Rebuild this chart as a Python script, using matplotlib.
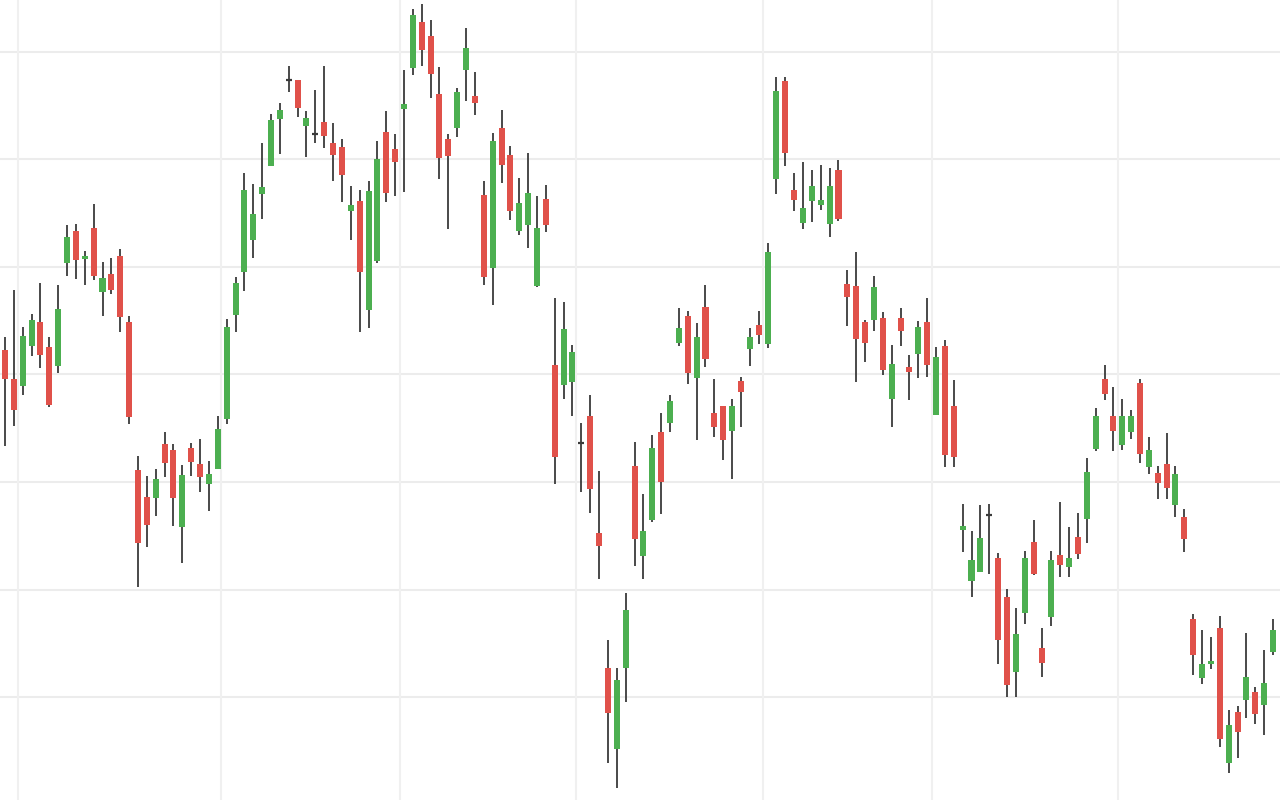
import matplotlib
matplotlib.use('Agg')
import matplotlib.pyplot as plt
import numpy as np

# OHLC por vela
opens = [45.0, 42.1, 41.4, 45.4, 47.8, 45.3, 43.4, 53.7, 56.9, 54.1,
         57.2, 50.8, 52.6, 54.4, 47.8, 33.0, 30.3, 30.2, 35.6, 35.0,
         27.3, 35.2, 33.6, 31.6, 33.1, 38.1, 48.5, 52.8, 56.0, 60.6,
         63.4, 68.1, 72.0, 72.0, 67.4, 66.6, 67.8, 65.7, 65.3, 58.9,
         59.9, 49.0, 53.9, 66.8, 65.1, 69.1, 73.2, 77.8, 76.4, 70.6,
         66.1, 67.2, 73.0, 70.4, 60.5, 53.2, 67.2, 64.5, 56.9, 57.5,
         51.4, 60.1, 43.5, 41.5, 41.8, 35.7, 38.4, 26.7, 13.2, 5.1,
         13.2, 33.4, 24.4, 28.0, 36.8, 37.7, 45.7, 48.4, 42.2, 49.3,
         38.7, 39.4, 36.9, 41.9, 45.1, 47.5, 45.6, 62.1, 71.9, 61.0,
         57.7, 59.9, 59.5, 57.6, 63.0, 51.6, 51.4, 47.8, 48.0, 48.2,
         40.1, 48.2, 43.3, 44.6, 47.8, 38.5, 45.4, 39.4, 27.0, 21.9,
         22.8, 28.5, 24.2, 20.3, 12.8, 18.7, 25.8, 15.2, 18.3, 24.5,
         23.3, 26.3, 28.1, 35.1, 42.1, 38.4, 35.5, 36.8, 41.7, 33.3,
         32.7, 33.6, 29.5, 28.3, 18.1, 12.2, 13.6, 17.2, 3.7, 8.8,
         10.0, 10.8, 9.5, 14.8]
highs = [46.3, 51.0, 47.3, 48.6, 51.7, 46.3, 51.5, 57.5, 57.6, 54.9,
         59.6, 53.8, 54.2, 55.1, 48.4, 34.4, 32.4, 33.1, 36.8, 35.6,
         33.5, 35.7, 36.1, 33.9, 38.4, 48.1, 52.3, 62.7, 61.6, 65.7,
         68.6, 69.7, 73.45, 72.0, 68.9, 71.0, 73.4, 67.7, 66.1, 61.4,
         61.0, 61.9, 65.9, 68.9, 66.6, 73.0, 79.1, 79.6, 78.0, 73.3,
         66.6, 71.2, 77.2, 72.8, 61.9, 66.7, 69.0, 65.4, 62.2, 64.7,
         60.4, 61.5, 50.2, 49.8, 45.5, 37.7, 40.5, 32.9, 16.0, 13.2,
         20.7, 35.8, 30.6, 36.5, 38.7, 40.5, 49.2, 48.9, 47.7, 51.5,
         42.1, 39.4, 40.1, 42.3, 47.2, 48.9, 55.7, 72.3, 72.3, 62.7,
         63.8, 63.0, 63.5, 63.2, 64.0, 53.0, 54.8, 48.0, 52.4, 48.8,
         45.5, 49.2, 44.5, 47.9, 50.2, 45.3, 46.0, 42.0, 29.6, 26.9,
         29.5, 29.6, 24.7, 21.1, 19.2, 24.9, 28.0, 17.2, 24.9, 29.8,
         27.3, 28.7, 34.2, 39.2, 43.5, 41.3, 40.1, 39.0, 42.1, 36.3,
         33.4, 36.7, 33.4, 29.1, 18.6, 17.0, 16.3, 18.4, 9.0, 9.4,
         16.7, 11.3, 15.0, 18.1]
lows = [35.4, 37.4, 40.5, 44.4, 43.2, 39.3, 42.7, 52.4, 52.1, 51.5,
        52.0, 48.4, 50.6, 46.8, 37.6, 21.3, 25.3, 28.4, 32.3, 27.4,
        23.7, 32.4, 30.8, 28.9, 33.1, 37.6, 46.8, 50.9, 54.2, 58.1,
        63.4, 64.6, 70.8, 68.3, 64.3, 65.7, 65.2, 61.9, 59.8, 56.0,
        46.8, 47.2, 53.7, 59.8, 60.4, 60.8, 72.5, 73.4, 70.2, 62.1,
        57.1, 66.3, 69.9, 68.5, 51.5, 49.5, 61.7, 58.0, 56.5, 55.2,
        51.3, 56.8, 31.6, 40.1, 38.4, 30.8, 28.7, 22.1, 3.7, 1.2,
        9.8, 23.4, 22.1, 27.8, 28.6, 36.8, 45.4, 41.6, 36.0, 43.3,
        36.3, 34.0, 32.1, 37.3, 43.4, 45.6, 45.2, 60.6, 63.4, 58.9,
        57.1, 57.8, 59.0, 56.3, 57.9, 47.4, 41.8, 43.8, 46.9, 42.5,
        37.3, 45.4, 40.0, 42.2, 42.3, 38.5, 33.3, 33.3, 24.8, 20.3,
        22.8, 22.6, 13.6, 10.3, 10.3, 17.6, 22.5, 12.3, 17.4, 22.3,
        22.3, 24.1, 25.7, 34.9, 40.0, 34.9, 35.0, 36.1, 33.7, 32.6,
        30.1, 30.1, 28.3, 24.8, 12.5, 11.6, 13.1, 5.3, 2.7, 4.2,
        8.2, 7.6, 6.5, 14.5]
closes = [42.1, 39.0, 46.4, 48.0, 44.5, 39.5, 49.1, 56.3, 54.0, 54.4,
          52.4, 52.2, 51.0, 48.3, 38.3, 25.7, 27.5, 32.1, 33.7, 30.2,
          32.5, 33.8, 32.3, 32.6, 37.1, 47.3, 51.7, 61.0, 58.6, 61.3,
          68.0, 69.0, 72.0, 69.2, 68.2, 66.6, 66.4, 64.5, 62.5, 59.5,
          52.8, 60.9, 64.1, 60.7, 63.8, 69.6, 78.5, 75.0, 72.6, 64.2,
          64.4, 70.8, 75.2, 69.7, 52.3, 65.9, 63.5, 58.9, 59.7, 60.7,
          57.2, 57.5, 34.3, 47.1, 44.8, 35.7, 31.1, 25.4, 8.7, 12.0,
          19.0, 26.1, 26.9, 35.2, 31.8, 39.9, 47.2, 42.7, 46.3, 44.1,
          37.3, 36.0, 39.4, 40.8, 46.3, 46.5, 54.8, 70.9, 64.7, 60.0,
          59.2, 61.4, 60.0, 61.4, 58.1, 50.3, 46.1, 45.7, 51.3, 43.0,
          43.6, 46.9, 42.8, 47.3, 43.5, 44.3, 34.5, 34.3, 27.4, 24.0,
          26.2, 28.5, 16.0, 11.5, 16.6, 24.2, 22.6, 13.7, 24.0, 23.5,
          24.2, 24.6, 32.8, 38.4, 40.6, 36.9, 38.4, 38.4, 34.6, 35.0,
          31.7, 31.2, 32.6, 26.1, 14.5, 13.6, 13.9, 6.1, 7.5, 6.8,
          12.3, 8.6, 11.7, 17.0]

# lineas de la cuadricula
niveles_y = [10.3, 21.0, 31.8, 42.6, 53.3, 64.1, 74.8]
marcas_x = [1.47, 24.36, 44.55, 64.4, 85.5, 104.55, 125.5]

verde = '#4CAF50'
rojo = '#E0514A'
mecha = '#3a3a3a'
ancho = 0.68

fig = plt.figure(figsize=(12.8, 8), dpi=100)
ax = fig.add_axes([0, 0, 1, 1])

for yv in niveles_y:
    ax.axhline(yv, color='#ececec', lw=1.5, zorder=0)
for xv in marcas_x:
    ax.axvline(xv, color='#f0f0f0', lw=1.5, zorder=0)

x = np.arange(len(opens))
o = np.array(opens)
h = np.array(highs)
l = np.array(lows)
c = np.array(closes)

ax.vlines(x, l, h, color=mecha, lw=1.3, zorder=2)

sube = c > o
baja = c < o
doji = c == o

ax.bar(x[sube], (c - o)[sube], bottom=o[sube], width=ancho,
       color=verde, zorder=3, linewidth=0)
ax.bar(x[baja], (o - c)[baja], bottom=c[baja], width=ancho,
       color=rojo, zorder=3, linewidth=0)
ax.hlines(o[doji], x[doji] - ancho / 2, x[doji] + ancho / 2,
          color=mecha, lw=1.6, zorder=3)

ax.set_xlim(-0.56, 143.79)
ax.set_ylim(0, 80)
ax.set_xticks([])
ax.set_yticks([])
for s in ax.spines.values():
    s.set_visible(False)

fig.savefig('out.png', dpi=100)
